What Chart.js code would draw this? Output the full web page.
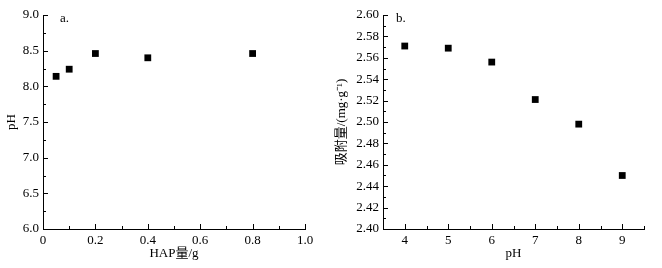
<!DOCTYPE html>
<html>
<head>
<meta charset="utf-8">
<script src="https://cdn.jsdelivr.net/npm/chart.js@4/dist/chart.umd.min.js"></script>
<style>
  html, body { margin: 0; padding: 0; background: #fff; }
  #wrap { position: relative; width: 662px; height: 268px; }
  .box { position: absolute; top: 0; height: 268px; }
</style>
</head>
<body>
<div id="wrap">
  <div class="box" style="left:0; width:330px;"><canvas id="chartA"></canvas></div>
  <div class="box" style="left:330px; width:332px;"><canvas id="chartB"></canvas></div>
</div>
<script>
// 图 a：HAP 用量与 pH
const hapAmount = [0.05, 0.1, 0.2, 0.4, 0.8];
const phValues = [8.14, 8.24, 8.46, 8.40, 8.46];

// 图 b：pH 与吸附量
const phLevels = [4, 5, 6, 7, 8, 9];
const adsorption = [2.571, 2.569, 2.556, 2.521, 2.498, 2.450];

// 刻度
const ticksAX = { min: 0, max: 1.0, major: 0.2, minor: 0.1 };
const ticksAY = { min: 6.0, max: 9.0, major: 0.5, minor: 0.25 };
const ticksBX = { min: 3.5, max: 9.5, major: 1, minor: 0.5 };
const ticksBY = { min: 2.40, max: 2.60, major: 0.02, minor: 0.01 };

const serif = "'Liberation Serif', 'Times New Roman', 'Noto Sans CJK SC', serif";

function isMajor(v, t) {
  if (t.min === 3.5) return Math.abs(v - Math.round(v)) < 1e-6;
  const r = (v - t.min) / t.major;
  return Math.abs(r - Math.round(r)) < 1e-6;
}

// 向内的刻度线（主/次）
const innerTicks = {
  id: 'innerTicks',
  afterDraw(chart, args, opts) {
    const ctx = chart.ctx;
    const area = chart.chartArea;
    ctx.save();
    ctx.strokeStyle = '#000';
    ctx.lineWidth = 1;
    const xs = chart.scales.x, ys = chart.scales.y;
    xs.ticks.forEach(t => {
      const len = isMajor(t.value, opts.tx) ? 5 : 3;
      const px = Math.round(xs.getPixelForValue(t.value)) + 0.5;
      ctx.beginPath();
      ctx.moveTo(px, area.bottom);
      ctx.lineTo(px, area.bottom - len);
      ctx.stroke();
    });
    ys.ticks.forEach(t => {
      const len = isMajor(t.value, opts.ty) ? 5 : 3;
      const py = Math.round(ys.getPixelForValue(t.value)) + 0.5;
      ctx.beginPath();
      ctx.moveTo(area.left, py);
      ctx.lineTo(area.left + len, py);
      ctx.stroke();
    });
    ctx.fillStyle = '#000';
    ctx.font = '13px ' + serif;
    ctx.textBaseline = 'middle';
    ctx.fillText(opts.tag, area.left + opts.tagDx, area.top + 4);
    ctx.restore();
  }
};

function makeChart(id, xs, ys, tx, ty, fmtX, fmtY, titleX, titleY, yWidth, padRight, tag, tagDx) {
  const font = { family: serif, size: 13 };
  return new Chart(document.getElementById(id), {
    type: 'scatter',
    data: {
      datasets: [{
        data: xs.map((x, i) => ({ x: x, y: ys[i] })),
        pointStyle: 'rect',
        pointRadius: 4.8,
        pointHoverRadius: 4.8,
        backgroundColor: '#000',
        borderColor: '#000',
        borderWidth: 0
      }]
    },
    options: {
      responsive: true,
      maintainAspectRatio: false,
      animation: false,
      layout: { padding: { top: 15, right: padRight, left: 0, bottom: 0 } },
      plugins: {
        legend: { display: false },
        tooltip: { enabled: false },
        innerTicks: { tx: tx, ty: ty, tag: tag, tagDx: tagDx }
      },
      scales: {
        x: {
          type: 'linear',
          min: tx.min, max: tx.max,
          grid: { display: false, drawTicks: false, tickLength: 0 },
          border: { display: true, color: '#000', width: 1 },
          ticks: {
            stepSize: tx.minor, autoSkip: false, maxRotation: 0,
            color: '#000', font: font, padding: 4,
            callback: v => isMajor(v, tx) ? fmtX(v) : ''
          },
          title: { display: true, text: titleX, color: '#000', font: font, padding: { top: 0, bottom: 7 } },
          afterFit: s => { s.height = 39; }
        },
        y: {
          type: 'linear',
          min: ty.min, max: ty.max,
          grid: { display: false, drawTicks: false, tickLength: 0 },
          border: { display: true, color: '#000', width: 1 },
          ticks: {
            stepSize: ty.minor, autoSkip: false,
            color: '#000', font: font, padding: 4,
            callback: v => isMajor(v, ty) ? fmtY(v) : ''
          },
          title: { display: true, text: titleY, color: '#000', font: font, padding: { top: 4, bottom: 0 } },
          afterFit: s => { s.width = yWidth; }
        }
      }
    },
    plugins: [innerTicks]
  });
}

makeChart('chartA', hapAmount, phValues, ticksAX, ticksAY,
  v => (Math.abs(v) < 1e-9 ? '0' : v.toFixed(1)),
  v => v.toFixed(1),
  'HAP量/g', 'pH', 43, 25, 'a.', 17);

makeChart('chartB', phLevels, adsorption, ticksBX, ticksBY,
  v => String(Math.round(v)),
  v => v.toFixed(2),
  'pH', '吸附量/(mg·g⁻¹)', 53, 18, 'b.', 13);
</script>
</body>
</html>
